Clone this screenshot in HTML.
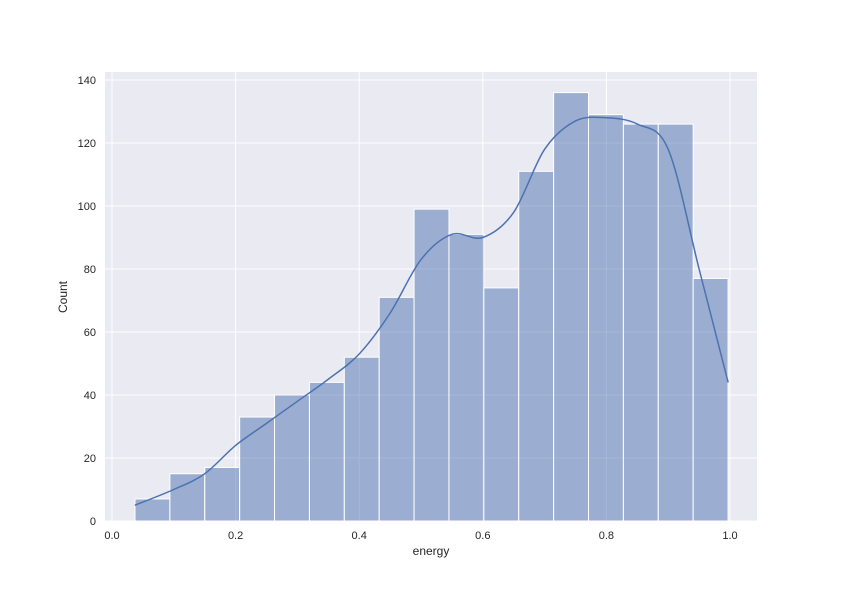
<!DOCTYPE html>
<html><head><meta charset="utf-8"><style>
body{margin:0;background:#fff;}
svg{display:block;font-family:"Liberation Sans","DejaVu Sans",sans-serif;}
</style></head><body>
<svg id="chart" width="842" height="595"></svg>
<script>
const binStart = 0.0372;
const binWidth = 0.05645;
const counts = [7, 15, 17, 33, 40, 44, 52, 71, 99, 91, 74, 111, 136, 129, 126, 126, 77];
const kdeX = [0.037, 0.1, 0.15, 0.2, 0.25, 0.3, 0.35, 0.4, 0.45, 0.5, 0.55, 0.6, 0.65, 0.7, 0.75, 0.8, 0.85, 0.9, 0.95, 0.997];
const kdeY = [5, 10, 15, 24, 31, 38, 45, 53, 66, 83, 91, 90, 98, 118, 127, 128, 126, 118, 80, 44];
const xTicks = [0.0, 0.2, 0.4, 0.6, 0.8, 1.0];
const xTickLabels = ["0.0", "0.2", "0.4", "0.6", "0.8", "1.0"];
const yTicks = [0, 20, 40, 60, 80, 100, 120, 140];

const NS = "http://www.w3.org/2000/svg";
const svg = document.getElementById("chart");
const L = 105, R = 757, T = 72, B = 521;
const sx = v => 112 + v * 618;
const sy = v => 521 - v * 3.15;
function mk(tag, attrs, parent) {
  const e = document.createElementNS(NS, tag);
  for (const k in attrs) e.setAttribute(k, attrs[k]);
  (parent || svg).appendChild(e);
  return e;
}
const bg = mk("rect", {x: L, y: T, width: R - L, height: B - T, fill: "#EAEAF2"});


xTicks.forEach((t, i) => {
  const g = mk("line", {x1: sx(t), x2: sx(t), y1: T, y2: B, stroke: "#fff", "stroke-width": 1});
  
  
  const tx = mk("text", {x: sx(t), y: 539, "text-anchor": "middle", "font-size": 11, fill: "#262626"});
  tx.textContent = xTickLabels[i];
  
  
});
yTicks.forEach(t => {
  const g = mk("line", {x1: L, x2: R, y1: sy(t), y2: sy(t), stroke: "#fff", "stroke-width": 1});
  
  
  const tx = mk("text", {x: 96, y: sy(t) + 4, "text-anchor": "end", "font-size": 11, fill: "#262626"});
  tx.textContent = String(t);
  
  
});
counts.forEach((c, i) => {
  const x0 = sx(binStart + i * binWidth), x1 = sx(binStart + (i + 1) * binWidth);
  const r = mk("rect", {x: x0, y: sy(c), width: x1 - x0, height: sy(0) - sy(c), fill: "rgba(76,114,176,0.5)", stroke: "#fff", "stroke-width": 1});
  
  
});
const pts = kdeX.map((v, i) => [sx(v), sy(kdeY[i])]);
let d = "M" + pts[0][0] + "," + pts[0][1];
for (let i = 0; i < pts.length - 1; i++) {
  const p0 = pts[Math.max(0, i - 1)], p1 = pts[i], p2 = pts[i + 1], p3 = pts[Math.min(pts.length - 1, i + 2)];
  const c1 = [p1[0] + (p2[0] - p0[0]) / 6, p1[1] + (p2[1] - p0[1]) / 6];
  const c2 = [p2[0] - (p3[0] - p1[0]) / 6, p2[1] - (p3[1] - p1[1]) / 6];
  d += ` C${c1[0]},${c1[1]} ${c2[0]},${c2[1]} ${p2[0]},${p2[1]}`;
}
const kde = mk("path", {d: d, fill: "none", stroke: "#4C72B0", "stroke-width": 1.5});


const xl = mk("text", {x: 431, y: 555, "text-anchor": "middle", "font-size": 12, fill: "#262626"});
xl.textContent = "energy";


const yl = mk("text", {x: 67, y: 297, "text-anchor": "middle", "font-size": 12, fill: "#262626", transform: "rotate(-90 67 297)"});
yl.textContent = "Count";


</script>
</body></html>
